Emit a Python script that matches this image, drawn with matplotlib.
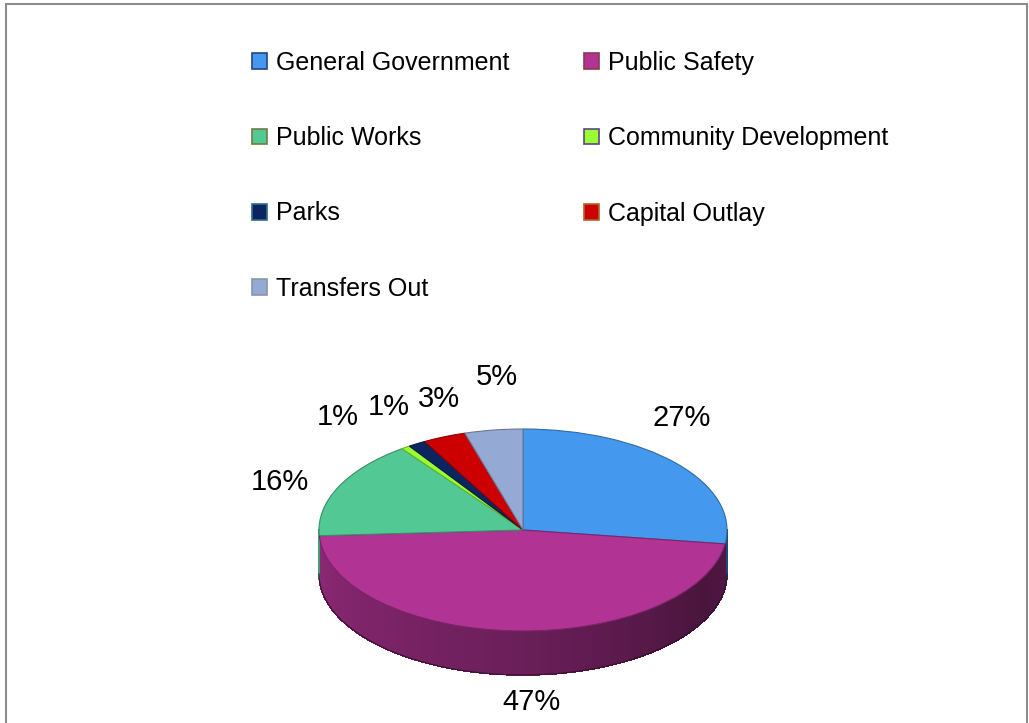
import numpy as np
import matplotlib
matplotlib.use("Agg")
import matplotlib.pyplot as plt
from matplotlib.collections import PolyCollection
from matplotlib.patches import Patch, Rectangle
from matplotlib.colors import to_rgb

categories = ["General Government", "Public Safety", "Public Works",
              "Community Development", "Parks", "Capital Outlay", "Transfers Out"]
shares = [27.2, 46.9, 15.8, 0.7, 1.4, 3.4, 4.6]
colors = ["#4499EE", "#B13394", "#52C994", "#99FF33", "#0A2560", "#CC0000", "#94AAD4"]
legend_edges = ["#25457F", "#8E3A44", "#6E7F40", "#5E4585", "#2E6F8A", "#B0652A", "#8A96A8"]

# percentage label centres, in pie radius units
label_pos = [(0.78, 1.11), (0.04, -1.70), (-1.19, 0.475), (-0.91, 1.12),
             (-0.66, 1.22), (-0.41, 1.30), (-0.13, 1.51)]

W, H = 1029, 723
CX, CY = 523, 530      # centre of the top face, pixels from top-left
RX, RY = 204, 101      # ellipse radii in pixels
DEPTH = 44             # thickness of the disc in pixels

plt.rcParams["font.family"] = ["Liberation Sans", "DejaVu Sans"]


def shade(c, f):
    r, g, b = to_rgb(c)
    return (r * f, g * f, b * f)


fig = plt.figure(figsize=(W / 100, H / 100), dpi=100)
ax = fig.add_axes([0, 0, 1, 1])

wedges, _ = ax.pie(shares, colors=colors, startangle=90, counterclock=False,
                   wedgeprops=dict(linewidth=0.8))
for w, c in zip(wedges, colors):
    w.set_edgecolor(shade(c, 0.7))
    w.set_zorder(3)

ax.set_aspect("auto")
ax.set_xlim(-CX / RX, (W - CX) / RX)
ax.set_ylim(-(H - CY) / RY, CY / RY)
ax.axis("off")

# side wall of the disc, only the front half (-180..0 deg) is visible
d = DEPTH / RY
polys, fcs = [], []
for w, c in zip(wedges, colors):
    lo, hi = max(w.theta1, -180), min(w.theta2, 0)
    if lo >= hi:
        continue
    ts = np.linspace(lo, hi, max(2, int((hi - lo) / 0.5) + 1))
    for t1, t2 in zip(ts[:-1], ts[1:]):
        a1, a2 = np.radians(t1), np.radians(t2)
        polys.append([(np.cos(a1), np.sin(a1)), (np.cos(a2), np.sin(a2)),
                      (np.cos(a2), np.sin(a2) - d), (np.cos(a1), np.sin(a1) - d)])
        u = ((t1 + t2) / 2 + 180) / 180
        f = np.interp(u, [0, 0.5, 0.85, 1], [0.8, 0.6, 0.41, 0.47])
        fcs.append(shade(c, f))
side = PolyCollection(polys, facecolors=fcs, edgecolors=fcs, linewidths=0.5,
                      antialiased=False, zorder=1)
ax.add_collection(side)

tt = np.radians(np.linspace(-180, 0, 200))
ax.plot(np.cos(tt), np.sin(tt) - d, color="#3a1030", lw=0.8, zorder=2)

# percentage labels
for (x, y), v in zip(label_pos, shares):
    ax.text(x, y, f"{v / sum(shares) * 100:.0f}%", ha="center", va="center",
            fontsize=21, color="black", zorder=5)

# legend laid out row by row: (GG, PS), (PW, CD), (Parks, CO), (TO)
handles = [Patch(facecolor=c, edgecolor=e, linewidth=1.2)
           for c, e in zip(colors, legend_edges)]
order = [0, 2, 4, 6, 1, 3, 5]
fig.legend([handles[i] for i in order], [categories[i] for i in order],
           ncol=2, loc="upper left", bbox_to_anchor=(252 / W, 1 - 51 / H),
           frameon=False, fontsize=18, handlelength=0.6, handleheight=0.6,
           handletextpad=0.36, columnspacing=3.0, labelspacing=2.05,
           borderpad=0, borderaxespad=0)

# chart frame
fig.add_artist(Rectangle((6 / W, -0.05), (1027 - 6) / W, 1 - 4 / H + 0.05,
                         transform=fig.transFigure, fill=False,
                         edgecolor="#8c8c8c", lw=1.5))

fig.savefig("out.png", dpi=100)
